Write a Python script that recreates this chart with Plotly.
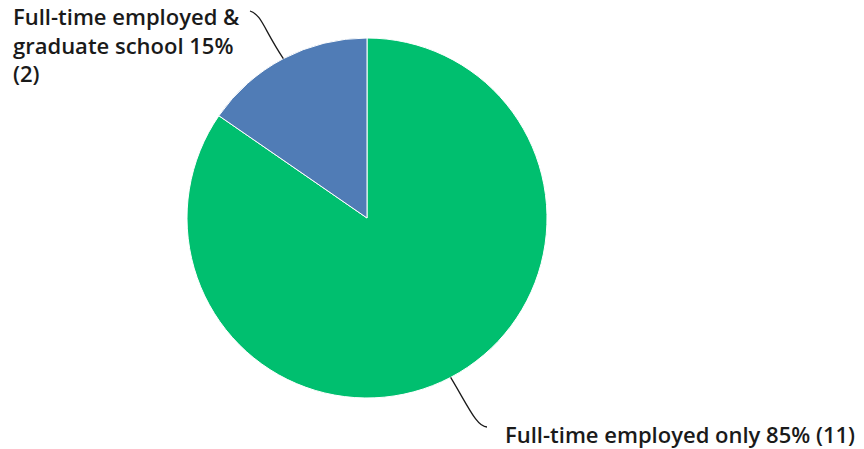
import math
import plotly.graph_objects as go

categories = ["Full-time employed only", "Full-time employed & graduate school"]
counts = [11, 2]
colors = ["#00BF6F", "#507CB6"]

W, H = 864, 449
cx, cy, r = 367, 218, 180  # pie centre / radius in pixels (layout)

def px(x):
    return x / W

def py(y):
    return 1 - y / H

fig = go.Figure()
fig.add_trace(go.Pie(
    labels=categories,
    values=counts,
    sort=False,
    direction="clockwise",
    rotation=0,
    marker=dict(colors=colors, line=dict(color="white", width=1)),
    textinfo="none",
    hoverinfo="label+percent+value",
    domain=dict(x=[px(cx - r), px(cx + r)], y=[py(cy + r), py(cy - r)]),
    showlegend=False,
))

total = sum(counts)
font = dict(family="'Open Sans', sans-serif", size=22, color="#1a1a1a", weight=600)

# mid-angles (clockwise from 12 o'clock) of slices for leader lines
start = 0.0
mids = []
for v in counts:
    span = 360.0 * v / total
    mids.append(start + span / 2)
    start += span

def edge(angle_deg):
    a = math.radians(angle_deg)
    return cx + r * math.sin(a), cy - r * math.cos(a)

pct = [round(100 * v / total) for v in counts]
label_green = f"{categories[0]} {pct[0]}% ({counts[0]})"
label_blue = f"Full-time employed &<br>graduate school {pct[1]}%<br>({counts[1]})"

shapes = []
# blue leader
sx, sy = edge(mids[1])
ex, ey = 250, 11
shapes.append(dict(type="path", xref="paper", yref="paper",
    path=f"M {px(sx)} {py(sy)} C {px(sx-20)} {py(sy-30)}, {px(ex+12)} {py(ey+4)}, {px(ex)} {py(ey)}",
    line=dict(color="#1a1a1a", width=1.3)))
# green leader
sx, sy = edge(mids[0])
ex, ey = 487, 427
shapes.append(dict(type="path", xref="paper", yref="paper",
    path=f"M {px(sx)} {py(sy)} C {px(sx+18)} {py(sy+30)}, {px(ex-10)} {py(ey)}, {px(ex)} {py(ey)}",
    line=dict(color="#1a1a1a", width=1.3)))

annotations = [
    dict(text=label_blue, x=px(11), y=py(44), xref="paper", yref="paper",
         xanchor="left", yanchor="middle", align="left", showarrow=False, font=font),
    dict(text=label_green, x=px(503), y=py(434), xref="paper", yref="paper",
         xanchor="left", yanchor="middle", align="left", showarrow=False, font=font),
]

fig.update_layout(
    width=W, height=H,
    margin=dict(l=0, r=0, t=0, b=0),
    paper_bgcolor="white", plot_bgcolor="white",
    shapes=shapes, annotations=annotations,
)

fig.write_html("out.html", config={"displayModeBar": False},
               post_script="document.body.style.margin='0';document.body.style.overflow='hidden';")
